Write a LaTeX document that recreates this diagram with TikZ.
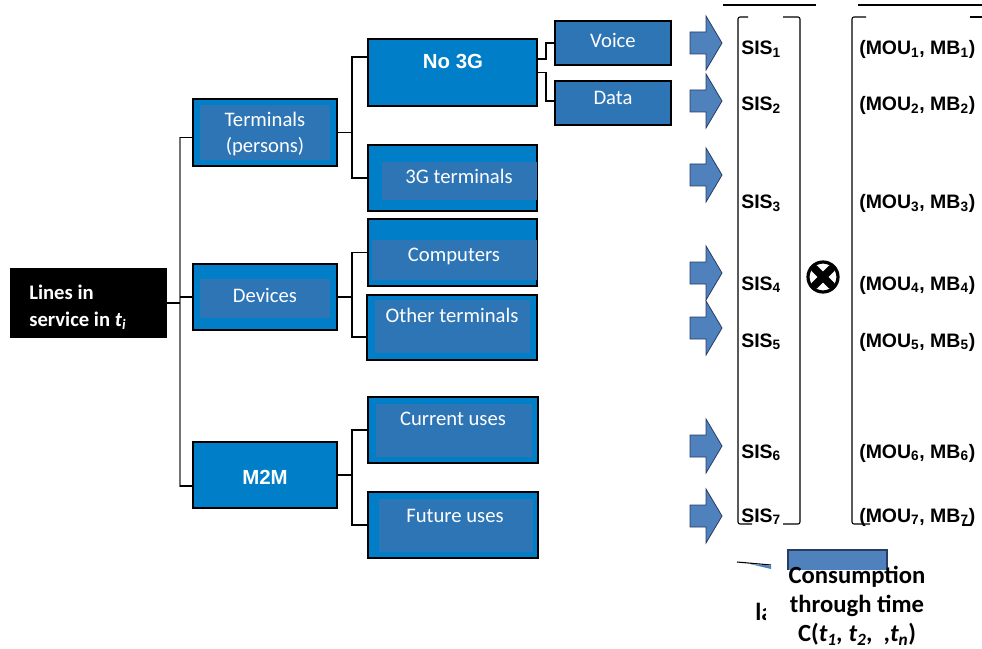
\documentclass[tikz,border=0pt]{standalone}
\usepackage{fontspec}
\newfontfamily\calfont{Carlito}
\newfontfamily\arifont{Liberation Sans}
\definecolor{bblue}{RGB}{0,126,200}
\definecolor{iblue}{RGB}{46,117,182}
\definecolor{ablue}{RGB}{79,129,189}
\definecolor{aedge}{RGB}{40,60,100}
\begin{document}
\begin{tikzpicture}[x=0.75pt,y=-0.75pt,
  wh/.style 2 args={minimum width=#1*0.75pt, minimum height=#2*0.75pt},
  obox/.style={draw=black, line width=0.9pt, fill=bblue, inner sep=0pt, outer sep=0pt},
  ibox/.style={fill=iblue, inner sep=0pt, outer sep=0pt},
  dbox/.style={draw=black, line width=0.9pt, fill=iblue, inner sep=0pt, outer sep=0pt},
  lab/.style={font={\calfont\fontsize{15.5}{19.5}\selectfont}, text=white, align=center, inner sep=0pt},
  blab/.style={font={\arifont\bfseries\fontsize{15.3}{18}\selectfont}, text=white, inner sep=0pt},
  mlab/.style={font={\arifont\bfseries\fontsize{14.6}{18}\selectfont}, anchor=base west, inner sep=0pt},
  conn/.style={draw=black, line width=0.8pt},
  arr/.style={fill=ablue, draw=aedge, line width=0.6pt},
  brk/.style={draw=black, line width=0.8pt, rounded corners=1.5pt}]
\useasboundingbox (0,0) rectangle (982,649);
\fill[white] (0,0) rectangle (982,649);

% ---- root
\node[fill=black, inner sep=0pt, wh={157}{70}] (root) at (88.5,303) {};
\node[font={\calfont\bfseries\fontsize{15.5}{20.25}\selectfont}, text=white, align=left, anchor=base west, inner sep=0pt] (rootT) at (29,326) {Lines in\\service in \textit{t\textsubscript{i}}};

% ---- level 1
\node[obox, wh={144}{67}] (term) at (265,132.5) {};
\node[ibox, wh={130}{55}] (termI) at (265,132.5) {};
\node[lab] (termT) at (265,134) {Terminals\\(persons)};

\node[obox, wh={144}{66}] (dev) at (265,297) {};
\node[ibox, wh={130}{39}] (devI) at (265,298.5) {};
\node[lab] (devT) at (265,295) {Devices};

\node[obox, wh={144}{66}] (m2m) at (265,475) {};
\node[blab] (m2mT) at (265,477) {M2M};

% ---- level 2
\node[obox, wh={169}{67}] (no3g) at (452.5,72.5) {};
\node[blab] (no3gT) at (453,61) {No 3G};

\node[obox, wh={169}{66}] (g3) at (452.5,178) {};
\node[ibox, wh={155}{38}] (g3I) at (459.5,181) {};
\node[lab] (g3T) at (459,176) {3G terminals};

\node[obox, wh={169}{67}] (comp) at (452.5,252.5) {};
\node[ibox, wh={165}{40}] (compI) at (454.5,260) {};
\node[lab] (compT) at (454,256) {Computers};

\node[obox, wh={170}{65}] (oth) at (452,327.5) {};
\node[ibox, wh={155}{53}] (othI) at (452.5,326.5) {};
\node[lab] (othT) at (452,315) {Other terminals};

\node[obox, wh={170}{66}] (cur) at (453,430) {};
\node[ibox, wh={156}{53}] (curI) at (454,430.5) {};
\node[lab] (curT) at (453,419) {Current uses};

\node[obox, wh={170}{66}] (fut) at (453,525) {};
\node[ibox, wh={154}{53}] (futI) at (456,525.5) {};
\node[lab] (futT) at (455,516) {Future uses};

% ---- level 3
\node[dbox, wh={116}{44}] (voice) at (613,43) {};
\node[lab] (voiceT) at (613,40) {Voice};
\node[dbox, wh={116}{44}] (data) at (613,103) {};
\node[lab] (dataT) at (613,98) {Data};

% ---- connectors
\coordinate (trunk) at (180,303);
\draw[draw=black!55, line width=0.8pt] ([yshift=-4.1pt]term.west) -| (trunk) |- ([yshift=-8.25pt]m2m.west);
\draw[conn] ([yshift=-4.1pt]term.west) -- ++(-13,0);
\draw[conn] ([yshift=-8.25pt]m2m.west) -- ++(-13,0);
\draw[conn] (root.east) -- (trunk);
\draw[conn] (dev.west) -- ++(-13,0);

\draw[conn] (term.east) -- ++(15,0) coordinate (tj);
\draw[conn] ([yshift=11.6pt]no3g.west) -| (tj) |- (g3.west);

\draw[conn] ([yshift=10.1pt]no3g.east) -- ++(9,0) |- (voice.west);
\draw[conn] (no3g.east) -- ++(9,0) |- ([yshift=1.5pt]data.west);

\draw[conn] (dev.east) -- ++(15,0) coordinate (dj);
\draw[conn] (comp.west) -| (dj) |- ([yshift=-7.1pt]oth.west);

\draw[conn] (m2m.east) -- ++(15,0) coordinate (mj);
\draw[conn] (cur.west) -| (mj) |- (fut.west);

% ---- block arrows
\foreach \yy in {43,101,175,273,328,446,516}{
  \draw[arr] (690,\yy-11) -- (706,\yy-11) -- (706,\yy-27) -- (722,\yy) -- (706,\yy+27) -- (706,\yy+11) -- (690,\yy+11) -- cycle;
}

% ---- brackets
\draw[black, line width=0.8pt] (723,5) -- (816,5);
\draw[black, line width=0.8pt] (858,5) -- (982,5);
\draw[brk] (748,17) -- (738,17) -- (738,524) -- (752,524);
\draw[brk] (783,17) -- (800,17) -- (800,524) -- (783,524);
\draw[brk] (866,17) -- (852,17) -- (852,524) -- (870,524);
\draw[black, line width=0.8pt] (970,17) -- (982,17);
\draw[black, line width=0.8pt] (962,525) -- (971,525);

% ---- SIS and (MOU, MB)
\foreach \i/\yy in {1/55,2/111,3/209,4/290,5/347,6/458,7/522}{
  \node[mlab] (sis\i) at (741,\yy) {SIS\textsubscript{\i}};
  \node[mlab] (mou\i) at (859,\yy) {(MOU\textsubscript{\i}, MB\textsubscript{\i})};
}

% ---- otimes
\node[circle, draw=black, line width=2.4pt, minimum size=30*0.75pt, inner sep=0pt] (otimes) at (823,277) {};
\draw[black, line width=5.6pt, line cap=round] ([shift={(-6.6pt,-6.6pt)}]otimes.center) -- ([shift={(6.6pt,6.6pt)}]otimes.center);
\draw[black, line width=5.6pt, line cap=round] ([shift={(-6.6pt,6.6pt)}]otimes.center) -- ([shift={(6.6pt,-6.6pt)}]otimes.center);

% ---- bottom remnants
\draw[black, line width=0.8pt] (737,562) -- (771,565);
\fill[ablue] (750,564) -- (771,565.5) -- (771,569) -- cycle;
\node[fill=ablue, draw=aedge, line width=0.8pt, inner sep=0pt, wh={99}{30}] (cbar) at (837.5,565) {};
\node[font={\calfont\bfseries\fontsize{18.5}{21.75}\selectfont}, anchor=west, inner sep=0pt] (laT) at (755,612) {la};
\node[fill=white, inner sep=0pt, wh={184}{79}] (cover) at (858,609.5) {};
\node[inner sep=0pt, font={\calfont\bfseries\fontsize{18.5}{21.75}\selectfont}, align=center] (consT) at (857,606) {Consumption\\through time\\C(\textit{t\textsubscript{1}, t\textsubscript{2}, \ ,t\textsubscript{n}})};
\end{tikzpicture}
\end{document}
